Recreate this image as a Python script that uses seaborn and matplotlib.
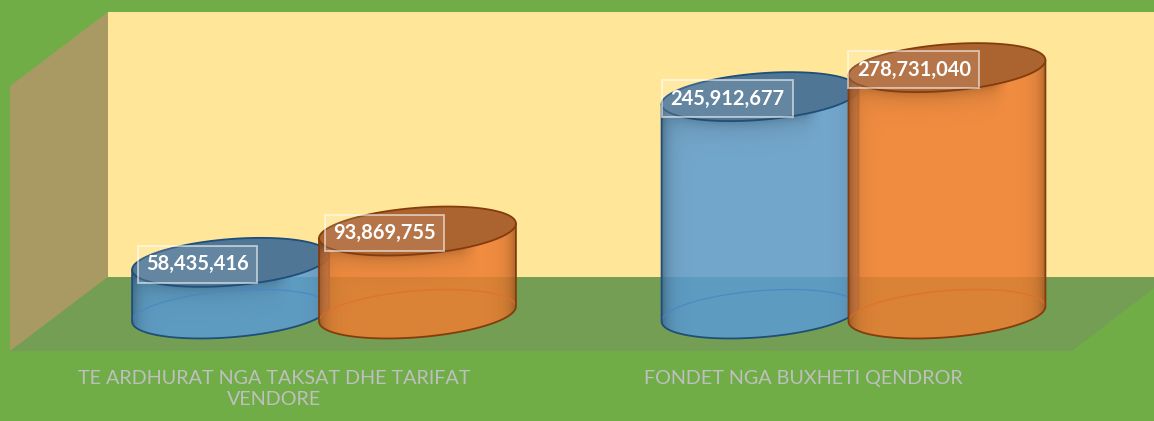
"""Two-series 3D style cylinder chart drawn on top of a seaborn barplot."""
import matplotlib
matplotlib.use('Agg')
import matplotlib.pyplot as plt
from matplotlib.patches import Polygon
from matplotlib.transforms import Affine2D
import numpy as np
import pandas as pd
import seaborn as sns

categories = ['TE ARDHURAT NGA TAKSAT DHE TARIFAT\nVENDORE', 'FONDET NGA BUXHETI QENDROR']
series_names = ['Seria 1', 'Seria 2']
series_1 = [58435416, 245912677]
series_2 = [93869755, 278731040]

colors = ['#5b9bd5', '#ed7d31']
edge_colors = ['#1f4e79', '#843c0c']
cap_colors = ['#4f7694', '#ab632f']
back_arc_colors = ['#4a86c4', '#e0702a']

WIDTH, HEIGHT = 1154, 421
PX_PER_VALUE = 0.884e-6
BASE_PX = 314
AXES_TOP, AXES_BOTTOM = 12, 351
GROUP_PX, GROUP_STEP = 324, 529.5
SEMI_MINOR, SHEAR = 23.3, 7.5

sns.set_theme(style='white')
plt.rcParams['font.family'] = ['Lato', 'DejaVu Sans']

df = pd.DataFrame({
    'category': categories * 2,
    'series': [series_names[0]] * 2 + [series_names[1]] * 2,
    'value': series_1 + series_2,
})

fig = plt.figure(figsize=(WIDTH / 100, HEIGHT / 100), dpi=100, facecolor='#70ad47')
ax = fig.add_axes([0, 1 - AXES_BOTTOM / HEIGHT, 1, (AXES_BOTTOM - AXES_TOP) / HEIGHT])
ax.patch.set_alpha(0)

sns.barplot(data=df, x='category', y='value', hue='series', order=categories,
            palette=colors, saturation=1, width=0.706, gap=-0.0535, legend=False, ax=ax)

xlim = (-GROUP_PX / GROUP_STEP, (WIDTH - GROUP_PX) / GROUP_STEP)
ylim = (-(AXES_BOTTOM - BASE_PX) / PX_PER_VALUE, (BASE_PX - AXES_TOP) / PX_PER_VALUE)
ax.set_xlim(xlim)
ax.set_ylim(ylim)
ax.autoscale(False)
sx = WIDTH / (xlim[1] - xlim[0])

# chart box, in picture pixels
px = Affine2D().scale(1 / WIDTH, -1 / HEIGHT).translate(0, 1) + fig.transFigure
ax.add_patch(Polygon([(108, 12), (1154, 12), (1154, 277), (108, 277)], color='#ffe699',
                     lw=0, zorder=0, transform=px))
ax.add_patch(Polygon([(10, 86), (108, 12), (108, 277), (10, 351)], color='#a89a62',
                     lw=0, zorder=0, transform=px))
ax.add_patch(Polygon([(10, 351), (108, 277), (1154, 277), (1154, 288), (1072, 351)],
                     color='#749e53', lw=0, zorder=0, transform=px))


def ring(cx, a, value, t):
    x = cx + a * np.cos(t) / sx
    y_px = SEMI_MINOR * np.sin(t) - SHEAR * np.cos(t)
    return x, value - y_px / PX_PER_VALUE


for s, container in enumerate(ax.containers):
    for g, bar in enumerate(container):
        bar.set_facecolor('none')
        bar.set_edgecolor('none')
        cx = bar.get_x() + bar.get_width() / 2
        a = bar.get_width() / 2 * sx
        value = bar.get_height()
        z = 2 + s * 0.5

        # body: vertical sides, closed by the front half of the base ellipse
        t = np.linspace(0, np.pi, 80)
        bx, by = ring(cx, a, 0, t)
        tx, ty = ring(cx, a, value, np.array([np.pi, 0]))
        body = Polygon(np.r_[np.c_[tx, ty], np.c_[bx, by]], facecolor=colors[s], alpha=0.85,
                       edgecolor='none', zorder=z)
        ax.add_patch(body)

        # darker sides and the shadow under the cap
        top_px = BASE_PX - value * PX_PER_VALUE
        rows = np.arange(top_px - 30, BASE_PX + 30)
        cols = np.linspace(-1, 1, int(2 * a))
        U, Y = np.meshgrid(cols, rows)
        d = Y - (top_px + SEMI_MINOR * np.sqrt(1 - U ** 2) - SHEAR * U)
        shade = 0.28 * np.exp(-(1 - np.abs(U)) * a / 7)
        shade = shade + 0.2 * np.exp(-np.clip(d, 0, None) / 9) * np.clip((0.62 - U) * 6, 0, 1)
        rgba = np.zeros(shade.shape + (4,))
        rgba[..., 3] = np.clip(shade, 0, 0.6)
        im = ax.imshow(rgba, extent=(cx - a / sx, cx + a / sx,
                                     (BASE_PX - rows[-1]) / PX_PER_VALUE,
                                     (BASE_PX - rows[0]) / PX_PER_VALUE),
                       aspect='auto', origin='upper', interpolation='bilinear', zorder=z + 0.01)
        im.set_clip_path(body)

        # outline and visible back edge of the base
        ax.plot(*ring(cx, a, 0, np.linspace(np.pi, 2 * np.pi, 80)), color=back_arc_colors[s],
                lw=1, alpha=0.8, zorder=z + 0.02)
        ax.plot(np.r_[tx[1], bx, tx[0]], np.r_[ty[1], by, ty[0]], color=edge_colors[s],
                lw=1.3, zorder=z + 0.03)

        # cap and value label
        cap_x, cap_y = ring(cx, a, value, np.linspace(0, 2 * np.pi, 160))
        ax.add_patch(Polygon(np.c_[cap_x, cap_y], facecolor=cap_colors[s],
                             edgecolor=edge_colors[s], lw=1.3, zorder=z + 0.04))
        ax.annotate(f'{value:,.0f}', (cx, value), xytext=(-33 * 0.72, -2 * 0.72),
                    textcoords='offset points', ha='center', va='center', color='white',
                    fontsize=14.5, fontweight='bold', zorder=5,
                    bbox=dict(boxstyle='square,pad=0.42', facecolor=(1, 1, 1, 0.12),
                              edgecolor=(1, 1, 1, 0.55), lw=1.4))

ax.set_xlim(xlim)
ax.set_ylim(ylim)

# category labels sit under the front of the floor, left of the cylinders
ax.set_xticks(np.arange(len(categories)) - 50 / GROUP_STEP, labels=categories)
ax.tick_params(axis='x', length=0, pad=14, colors='#bfbfbf', labelsize=14.2)
for label in ax.get_xticklabels():
    label.set_linespacing(1.25)
ax.set_yticks([])
ax.set_xlabel('')
ax.set_ylabel('')
sns.despine(ax=ax, left=True, bottom=True)

fig.savefig('out.png', dpi=100, facecolor=fig.get_facecolor())
plt.close(fig)
